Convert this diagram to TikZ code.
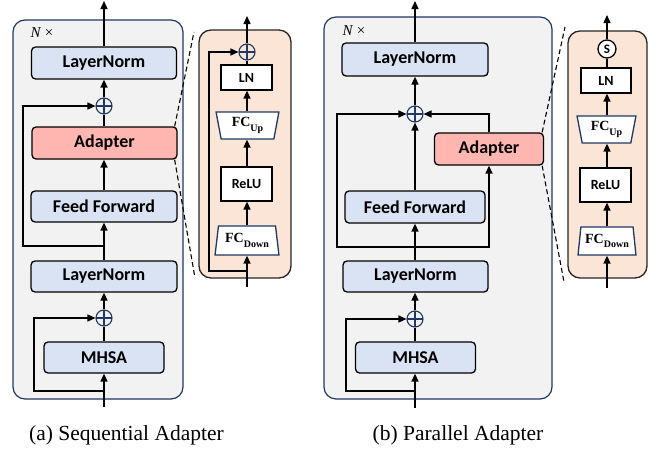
\documentclass[tikz,border=0pt]{standalone}
\usepackage{fontspec}
\setmainfont{Liberation Serif}
\setsansfont{Carlito}
\usetikzlibrary{arrows.meta,shapes.geometric,calc}
\definecolor{pgray}{HTML}{F2F2F2}
\definecolor{navy}{HTML}{1F3864}
\definecolor{lblue}{HTML}{DAE3F3}
\definecolor{apink}{HTML}{FFB6B0}
\definecolor{peach}{HTML}{FBE5D6}
\begin{document}
\begin{tikzpicture}[x=1pt,y=-1pt,
  ln/.style={line width=1.4pt},
  arr/.style={line width=1.4pt,-{Triangle[length=8pt,width=7pt]}},
  dsh/.style={line width=1.1pt,dash pattern=on 5pt off 3pt},
  panel/.style={draw=navy,fill=pgray,line width=1.2pt,rounded corners=12pt,inner sep=0pt},
  dpanel/.style={draw=black!85,fill=peach,line width=1.3pt,rounded corners=12pt,inner sep=0pt},
  blk/.style={draw=black,fill=lblue,line width=1.3pt,rounded corners=4pt,inner sep=0pt,font=\sffamily\bfseries\fontsize{18}{20}\selectfont},
  adp/.style={blk,fill=apink},
  sq/.style={draw=black,fill=white,line width=1.3pt,inner sep=0pt,font=\sffamily\bfseries\fontsize{14}{16}\selectfont},
  trap/.style={trapezium,draw=navy,fill=white,line width=1.3pt,inner sep=0pt,trapezium stretches=true,font=\bfseries\fontsize{14}{16}\selectfont},
  opl/.style={circle,draw=navy,line width=1.1pt,minimum size=16pt,inner sep=0pt,
    path picture={\draw[navy,line width=1.1pt] (path picture bounding box.north) -- (path picture bounding box.south) (path picture bounding box.west) -- (path picture bounding box.east);}},
  scirc/.style={circle,draw=black,fill=white,line width=1.3pt,minimum size=18pt,inner sep=0pt,font=\sffamily\bfseries\fontsize{13}{14}\selectfont},
  nx/.style={font=\fontsize{15}{16}\selectfont},
  captxt/.style={font=\fontsize{21.5}{24}\selectfont}
]
\useasboundingbox (0,0) rectangle (657,450);

% ================= (a) Sequential =================
\node[panel,minimum width=170pt,minimum height=379pt] (pa) at (98,209.5) {};
\node[nx,anchor=west] (anx) at (27,33) {\textit{N} ×};
\node[blk,minimum width=145pt,minimum height=32pt] (aln1) at (104,63) {LayerNorm};
\node[opl] (ao1) at (104,106) {};
\node[adp,minimum width=145pt,minimum height=32pt] (aad) at (104.5,143) {Adapter};
\node[blk,minimum width=146pt,minimum height=31pt] (aff) at (104,206.5) {Feed Forward};
\node[blk,minimum width=146pt,minimum height=31pt] (aln2) at (104,276.5) {LayerNorm};
\node[opl] (ao2) at (104,318) {};
\node[blk,minimum width=120pt,minimum height=31pt] (amh) at (104,357.5) {MHSA};
\coordinate (ain) at (104,407);
\coordinate (aout) at (104,1);
\coordinate (ab1) at (104,246);
\coordinate (ak1) at (23,0);
\coordinate (ab2) at (104,391);
\coordinate (ak2) at (34,0);

\draw[arr] (ain) -- (amh.south);
\draw[ln] (amh.north) -- (ao2.south);
\draw[arr] (ao2.north) -- (aln2.south);
\draw[arr] (aln2.north) -- (aff.south);
\draw[arr] (aff.north) -- (aad.south -| aff.north);
\draw[ln] (aad.north -| ao1) -- (ao1.south);
\draw[arr] (ao1.north) -- (aln1.south -| ao1);
\draw[arr] (aln1.north -| aout) -- (aout);
\draw[arr] (ab2) -- (ab2 -| ak2) |- (ao2.west);
\draw[arr] (ab1) -- (ab1 -| ak1) |- (ao1.west);

% detail (a)
\node[dpanel,minimum width=92pt,minimum height=248pt] (dpa) at (245,154) {};
\node[opl] (dao) at (247,52) {};
\node[sq,minimum width=51pt,minimum height=25pt] (daln) at (246.5,77.5) {LN};
\node[trap,shape border rotate=180,trapezium left angle=79,trapezium right angle=79,minimum width=63pt,minimum height=27pt] (daup) at (247.5,125.5) {FC\raisebox{-0.3em}{\fontsize{10}{10}\selectfont Up}};
\node[sq,minimum width=51pt,minimum height=34pt] (darl) at (246.5,184) {ReLU};
\node[trap,trapezium left angle=79,trapezium right angle=79,minimum width=64pt,minimum height=29pt] (dadn) at (247,240.5) {FC\raisebox{-0.3em}{\fontsize{10}{10}\selectfont Down}};
\coordinate (dain) at (247,287);
\coordinate (daout) at (247,16);
\coordinate (dab) at (247,271);
\coordinate (dak) at (209,0);

\draw[arr] (dain) -- (dadn.south -| dain);
\draw[arr] (dadn.north -| dain) -- (darl.south -| dain);
\draw[arr] (darl.north -| dain) -- (daup.south -| dain);
\draw[arr] (daup.north -| dain) -- (daln.south -| dain);
\draw[ln] (daln.north -| dain) -- (dao.south);
\draw[arr] (dao.north) -- (daout);
\draw[arr] (dab) -- (dab -| dak) |- (dao.west);

\coordinate (dsa1) at (194,32);
\coordinate (dsa2) at (195,278);
\draw[dsh] ($(aad.north east)+(-3,0)$) -- (dsa1);
\draw[dsh] ($(aad.south east)+(-3,0)$) -- (dsa2);

% ================= (b) Parallel =================
\node[panel,minimum width=228pt,minimum height=382pt] (pb) at (438,208) {};
\node[nx,anchor=west] (bnx) at (339,31) {\textit{N} ×};
\node[blk,minimum width=146pt,minimum height=33pt] (bln1) at (415,59.5) {LayerNorm};
\node[opl] (bo1) at (415,114) {};
\node[adp,minimum width=109pt,minimum height=32pt] (bad) at (489,149) {Adapter};
\node[blk,minimum width=140pt,minimum height=32pt] (bff) at (415,207) {Feed Forward};
\node[blk,minimum width=145pt,minimum height=31pt] (bln2) at (415.5,276.5) {LayerNorm};
\node[opl] (bo2) at (415,319) {};
\node[blk,minimum width=120pt,minimum height=31pt] (bmh) at (415.5,357.5) {MHSA};
\coordinate (bin) at (415,408);
\coordinate (bout) at (415,1);
\coordinate (bb1) at (415,247);
\coordinate (bk1) at (337,0);
\coordinate (bb2) at (415,391);
\coordinate (bk2) at (346,0);

\draw[arr] (bin) -- (bmh.south -| bin);
\draw[ln] (bmh.north -| bin) -- (bo2.south);
\draw[arr] (bo2.north) -- (bln2.south -| bin);
\draw[arr] (bln2.north -| bin) -- (bff.south -| bin);
\draw[arr] (bff.north -| bin) -- (bo1.south);
\draw[arr] (bo1.north) -- (bln1.south -| bin);
\draw[arr] (bln1.north -| bout) -- (bout);
\draw[arr] (bb2) -- (bb2 -| bk2) |- (bo2.west);
\draw[arr] (bb1) -- (bb1 -| bk1) |- (bo1.west);
\draw[arr] (bb1) -- (bb1 -| bad.south) -- (bad.south);
\draw[arr] (bad.north) |- (bo1.east);

% detail (b)
\node[dpanel,minimum width=79pt,minimum height=247pt] (dpb) at (607.5,154.5) {};
\node[scirc] (dbs) at (607,49) {S};
\node[sq,minimum width=50pt,minimum height=25pt] (dbln) at (606,80.5) {LN};
\node[trap,shape border rotate=180,trapezium left angle=78,trapezium right angle=78,minimum width=59pt,minimum height=27pt] (dbup) at (606.5,129.5) {FC\raisebox{-0.3em}{\fontsize{10}{10}\selectfont Up}};
\node[sq,minimum width=51pt,minimum height=34pt] (dbrl) at (605.5,185) {ReLU};
\node[trap,trapezium left angle=80,trapezium right angle=80,minimum width=58pt,minimum height=28pt] (dbdn) at (607,241) {FC\raisebox{-0.3em}{\fontsize{10}{10}\selectfont Down}};
\coordinate (dbin) at (607,288);
\coordinate (dbout) at (607,15);

\draw[arr] (dbin) -- (dbdn.south -| dbin);
\draw[arr] (dbdn.north -| dbin) -- (dbrl.south -| dbin);
\draw[arr] (dbrl.north -| dbin) -- (dbup.south -| dbin);
\draw[arr] (dbup.north -| dbin) -- (dbln.south -| dbin);
\draw[ln] (dbln.north -| dbin) -- (dbs.south);
\draw[arr] (dbs.north) -- (dbout);

\coordinate (dsb1) at (565,27);
\coordinate (dsb2) at (564,282);
\draw[dsh] ($(bad.north east)+(-2,0)$) -- (dsb1);
\draw[dsh] ($(bad.south east)+(-2,0)$) -- (dsb2);

% captions
\node[captxt] (capa) at (126.5,435) {(a) Sequential Adapter};
\node[captxt] (capb) at (458,435) {(b) Parallel Adapter};
\end{tikzpicture}
\end{document}
